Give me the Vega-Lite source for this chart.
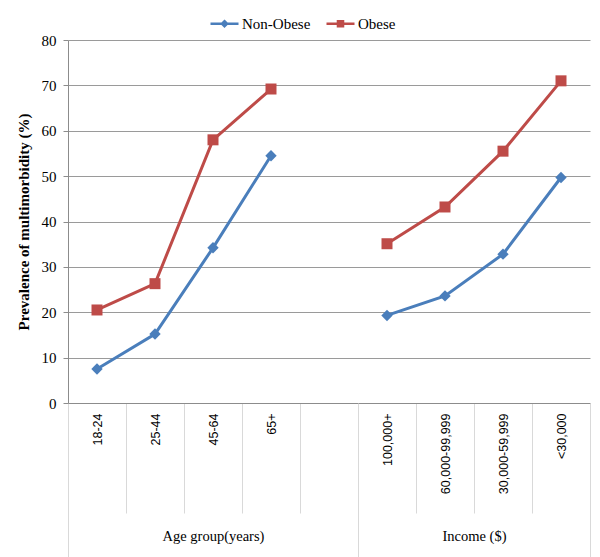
{
  "$schema": "https://vega.github.io/schema/vega-lite/v6.json",
  "width": 522,
  "height": 363,
  "autosize": {"type": "none"},
  "padding": {"left": 68, "top": 40, "right": 10, "bottom": 154},
  "config": {"font": "Liberation Serif", "view": {"stroke": null}},
  "datasets": {
    "prev": [
      {"category": "18-24", "group": "Age", "series": "Non-Obese", "value": 7.5},
      {"category": "25-44", "group": "Age", "series": "Non-Obese", "value": 15.2},
      {"category": "45-64", "group": "Age", "series": "Non-Obese", "value": 34.2},
      {"category": "65+", "group": "Age", "series": "Non-Obese", "value": 54.5},
      {"category": "100,000+", "group": "Income", "series": "Non-Obese", "value": 19.3},
      {"category": "60,000-99,999", "group": "Income", "series": "Non-Obese", "value": 23.6},
      {"category": "30,000-59,999", "group": "Income", "series": "Non-Obese", "value": 32.8},
      {"category": "<30,000", "group": "Income", "series": "Non-Obese", "value": 49.7},
      {"category": "18-24", "group": "Age", "series": "Obese", "value": 20.5},
      {"category": "25-44", "group": "Age", "series": "Obese", "value": 26.3},
      {"category": "45-64", "group": "Age", "series": "Obese", "value": 58.0},
      {"category": "65+", "group": "Age", "series": "Obese", "value": 69.2},
      {"category": "100,000+", "group": "Income", "series": "Obese", "value": 35.1},
      {"category": "60,000-99,999", "group": "Income", "series": "Obese", "value": 43.2},
      {"category": "30,000-59,999", "group": "Income", "series": "Obese", "value": 55.5},
      {"category": "<30,000", "group": "Income", "series": "Obese", "value": 71.0}
    ],
    "groups": [
      {"group": "Age group(years)", "mid": 2.5},
      {"group": "Income ($)", "mid": 7}
    ]
  },
  "layer": [
    {
      "data": {"name": "prev"},
      "encoding": {
        "x": {
          "field": "category",
          "type": "nominal",
          "scale": {
            "type": "band",
            "domain": ["18-24", "25-44", "45-64", "65+", " ", "100,000+", "60,000-99,999", "30,000-59,999", "<30,000"],
            "paddingInner": 0,
            "paddingOuter": 0
          },
          "axis": {
            "title": null,
            "labelAngle": 270,
            "labelFont": "Liberation Sans",
            "labelFontSize": 12.5,
            "labelColor": "#000000",
            "labelPadding": -100,
            "tickSize": 110,
            "tickBand": "extent",
            "tickColor": "#d9d9d9",
            "domainColor": "#8c8c8c",
            "grid": false
          }
        },
        "y": {
          "field": "value",
          "type": "quantitative",
          "scale": {"domain": [0, 80]},
          "axis": {
            "title": "Prevalence of multimorbidity (%)",
            "titleFont": "Liberation Serif",
            "titleFontSize": 15,
            "titleFontWeight": "bold",
            "titleColor": "#000000",
            "titlePadding": 10,
            "values": [0, 10, 20, 30, 40, 50, 60, 70, 80],
            "labelFont": "Liberation Serif",
            "labelFontSize": 15,
            "labelColor": "#000000",
            "labelPadding": 7,
            "tickSize": 5,
            "tickColor": "#8c8c8c",
            "domainColor": "#8c8c8c",
            "grid": true,
            "gridColor": "#9a9a9a"
          }
        },
        "color": {
          "field": "series",
          "type": "nominal",
          "scale": {"domain": ["Non-Obese", "Obese"], "range": ["#4A7EBB", "#BE4B48"]},
          "legend": {
            "title": null,
            "orient": "none",
            "direction": "horizontal",
            "legendX": 141,
            "legendY": -32,
            "labelFont": "Liberation Serif",
            "labelFontSize": 15,
            "labelColor": "#000000",
            "labelOffset": 2,
            "columnPadding": 10,
            "symbolSize": 784,
            "symbolStrokeWidth": 2.5,
            "encode": {
              "symbols": {
                "update": {
                  "shape": {"signal": "datum.value === 'Obese' ? 'M-1,0H1M-0.18,-0.18H0.18V0.18H-0.18Z' : 'M-1,0H1M0,-0.18L0.18,0L0,0.18L-0.18,0Z'"},
                  "fill": {"scale": "color", "field": "value"},
                  "stroke": {"scale": "color", "field": "value"},
                  "strokeWidth": {"value": 2.5},
                  "opacity": {"value": 1}
                }
              }
            }
          }
        },
        "detail": {"field": "group"}
      },
      "layer": [
        {"mark": {"type": "line", "strokeWidth": 3}},
        {
          "mark": {"type": "point", "filled": true, "opacity": 1},
          "encoding": {
            "shape": {"condition": {"test": "datum.series === 'Obese'", "value": "square"}, "value": "diamond"},
            "size": {"condition": {"test": "datum.series === 'Obese'", "value": 121}, "value": 130}
          }
        }
      ]
    },
    {
      "data": {"name": "groups"},
      "mark": {"type": "text", "opacity": 0},
      "encoding": {
        "text": {"field": "group"},
        "x": {
          "field": "mid",
          "type": "quantitative",
          "scale": {"domain": [0, 9], "nice": false, "zero": false},
          "axis": {
            "orient": "bottom",
            "title": null,
            "values": [0, 2.5, 5, 7, 9],
            "labelExpr": "datum.value == 2.5 ? 'Age group(years)' : datum.value == 7 ? 'Income ($)' : ''",
            "labelFont": "Liberation Serif",
            "labelFontSize": 14.5,
            "labelColor": "#000000",
            "labelAngle": 0,
            "labelPadding": -28,
            "labelFlush": false,
            "labelOverlap": false,
            "tickSize": 154,
            "tickColor": "#d9d9d9",
            "tickOpacity": {"condition": {"test": "datum.value == 2.5 || datum.value == 7", "value": 0}, "value": 1},
            "domain": false,
            "grid": false
          }
        }
      }
    }
  ],
  "resolve": {"scale": {"x": "independent"}, "axis": {"x": "independent"}}
}
